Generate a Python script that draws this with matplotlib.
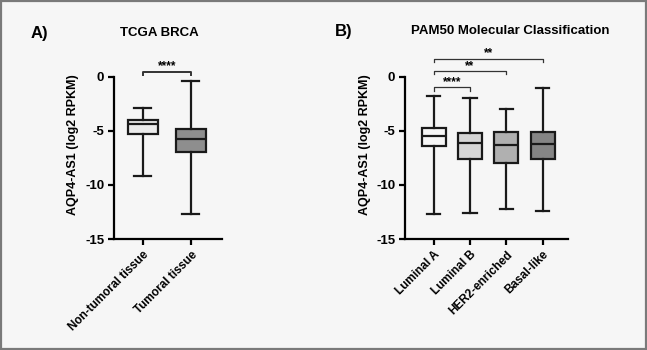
import matplotlib.pyplot as plt
from matplotlib.patches import Rectangle

plt.rcParams['font.family'] = ['Liberation Sans', 'DejaVu Sans']
plt.rcParams['font.weight'] = 'bold'

# Panel A: TCGA BRCA
groups_a = ['Non-tumoral tissue', 'Tumoral tissue']
whislo_a = [-9.2, -12.7]
q1_a = [-5.3, -7.0]
med_a = [-4.4, -5.8]
q3_a = [-4.0, -4.8]
whishi_a = [-2.9, -0.4]
colors_a = ['#ececec', '#8e8e8e']

# Panel B: PAM50 subtypes
groups_b = ['Luminal A', 'Luminal B', 'HER2-enriched', 'Basal-like']
whislo_b = [-12.65, -12.55, -12.2, -12.4]
q1_b = [-6.4, -7.65, -7.95, -7.6]
med_b = [-5.45, -6.15, -6.3, -6.25]
q3_b = [-4.7, -5.25, -5.15, -5.15]
whishi_b = [-1.75, -2.0, -3.0, -1.05]
colors_b = ['#f6f6f6', '#d6d6d6', '#b0b0b0', '#858585']

# significance brackets: (group i, group j, y level, label)
sig_a = [(1, 2, 0.45, '****')]
sig_b = [(1, 2, -1.0, '****'), (1, 3, 0.5, '**'), (1, 4, 1.65, '**')]

bg = '#f6f6f6'


def make_stats(lo, q1, med, q3, hi):
    return [dict(whislo=a, q1=b, med=c, q3=d, whishi=e, fliers=[])
            for a, b, c, d, e in zip(lo, q1, med, q3, hi)]


def draw_panel(ax, stats, labels, colors, width, capw, sigs, xlim, sig_lw):
    lw = 1.6
    bp = ax.bxp(stats, positions=range(1, len(stats) + 1), widths=width,
                patch_artist=True, showfliers=False, showcaps=True,
                boxprops=dict(linewidth=lw, edgecolor='#1a1a1a'),
                medianprops=dict(color='#1a1a1a', linewidth=lw),
                whiskerprops=dict(color='#1a1a1a', linewidth=lw),
                capprops=dict(color='#1a1a1a', linewidth=lw),
                capwidths=capw)
    for patch, c in zip(bp['boxes'], colors):
        patch.set_facecolor(c)
    for i, j, y, lab in sigs:
        ax.plot([i, i, j, j], [y - 0.3, y, y, y - 0.3], color='#333333', lw=sig_lw)
        ax.text((i + j) / 2, y - 0.05, lab, ha='center', va='bottom',
                fontsize=8.5, fontweight='bold')
    ax.set_xlim(*xlim)
    ax.set_ylim(-15, 2.5)
    ax.set_facecolor(bg)
    ax.spines['top'].set_visible(False)
    ax.spines['right'].set_visible(False)
    ax.spines['left'].set_bounds(-15, 0)
    ax.spines['left'].set_linewidth(1.6)
    ax.spines['bottom'].set_linewidth(1.6)
    ax.set_yticks([0, -5, -10, -15])
    ax.set_yticklabels(['0', '-5', '-10', '-15'])
    ax.set_xticks(range(1, len(labels) + 1))
    ax.set_xticklabels(labels, rotation=45, ha='right', rotation_mode='anchor')
    ax.tick_params(axis='both', width=1.6, length=4, labelsize=8.5, pad=3)
    ax.tick_params(axis='y', labelsize=9.5)
    ax.set_ylabel('AQP4-AS1 (log2 RPKM)', fontsize=9, fontweight='bold', labelpad=4)


fig = plt.figure(figsize=(6.47, 3.5), dpi=100)
fig.patch.set_facecolor(bg)
fig.patches.append(Rectangle((0.001, 0.002), 0.997, 0.995, transform=fig.transFigure,
                             fill=False, edgecolor='#7a7a7a', linewidth=1.6))

ax1 = fig.add_axes([0.176, 0.317, 0.167, 0.5415])
draw_panel(ax1, make_stats(whislo_a, q1_a, med_a, q3_a, whishi_a), groups_a, colors_a,
           0.625, 0.35, sig_a, (0.396, 2.646), 1.4)

ax2 = fig.add_axes([0.626, 0.317, 0.252, 0.5415])
draw_panel(ax2, make_stats(whislo_b, q1_b, med_b, q3_b, whishi_b), groups_b, colors_b,
           0.66, 0.37, sig_b, (0.21, 4.70), 0.9)

fig.text(0.047, 0.905, 'A)', fontsize=12, fontweight='bold', va='center')
fig.text(0.246, 0.905, 'TCGA BRCA', fontsize=9.5, fontweight='bold', ha='center', va='center')
fig.text(0.518, 0.91, 'B)', fontsize=12, fontweight='bold', va='center')
fig.text(0.788, 0.91, 'PAM50 Molecular Classification', fontsize=9.5, fontweight='bold',
         ha='center', va='center')

fig.savefig('out.png', dpi=100, facecolor=bg)
